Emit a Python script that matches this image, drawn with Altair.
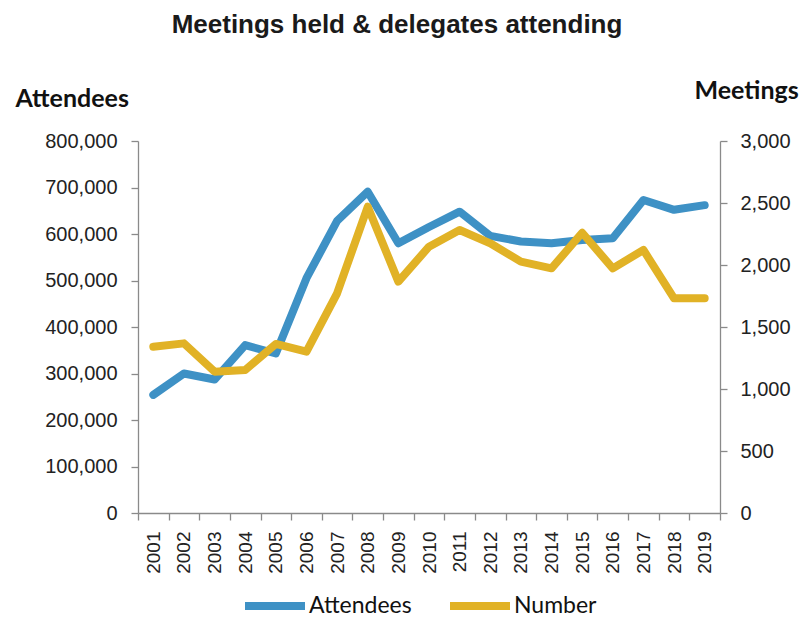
import altair as alt
import pandas as pd

years = [str(y) for y in range(2001, 2020)]
attendees = [254000, 300000, 287000, 361000, 343000, 505000, 628000, 691000, 580000,
             615000, 648000, 596000, 584000, 580000, 587000, 591000, 673000, 652000, 662000]
meetings = [1341, 1368, 1140, 1153, 1363, 1301, 1772, 2470, 1866,
            2148, 2282, 2175, 2027, 1973, 2260, 1973, 2121, 1731, 1731]
series = ["Attendees", "Number"]
colors = ["#3E91C5", "#E1B226"]
left_ticks = list(range(0, 800001, 100000))
right_ticks = list(range(0, 3001, 500))

df = pd.DataFrame({"year": years, "attendees": attendees, "meetings": meetings})

W, H = 582, 372
AXIS_GREY = "#8a8a8a"
LABEL_COL = "#222222"

x_enc = alt.X(
    "year:O",
    bandPosition=0.5,
    scale=alt.Scale(type="band", paddingInner=0, paddingOuter=0),
    axis=alt.Axis(
        title=None, labelAngle=270, labelFont="Liberation Sans", labelFontSize=19,
        labelColor=LABEL_COL, labelPadding=11, tickBand="extent", tickSize=7,
        tickColor=AXIS_GREY, domainColor=AXIS_GREY, domainWidth=1.3, tickWidth=1.3,
        grid=False,
    ),
)

color_scale = alt.Scale(domain=series, range=colors)

blue = alt.Chart(df).transform_calculate(series="'Attendees'").mark_line(
    strokeWidth=8, strokeCap="round", strokeJoin="round"
).encode(
    x=x_enc,
    y=alt.Y(
        "attendees:Q",
        scale=alt.Scale(domain=[0, 800000], nice=False, zero=True),
        axis=alt.Axis(
            values=left_ticks, format=",d", orient="left", title="Attendees",
            titleAngle=0, titleAlign="left", titleBaseline="alphabetic",
            titleX=-123, titleY=-35, titleFont="Lato", titleFontSize=25,
            titleFontWeight="bold", titleColor="#111111",
            labelFont="Liberation Sans", labelFontSize=20, labelColor=LABEL_COL,
            labelPadding=14, tickSize=7, tickColor=AXIS_GREY, tickWidth=1.3,
            domainColor=AXIS_GREY, domainWidth=1.3, grid=False,
        ),
    ),
    color=alt.Color(
        "series:N", scale=color_scale,
        legend=alt.Legend(
            title=None, orient="none", legendX=103, legendY=431, direction="horizontal",
            symbolType="stroke", symbolSize=3600, symbolStrokeWidth=8,
            labelFont="Lato", labelFontSize=23, labelColor="#111111", labelOffset=0,
            columnPadding=22, padding=0,
        ),
    ),
)

yellow = alt.Chart(df).transform_calculate(series="'Number'").mark_line(
    strokeWidth=8, strokeCap="round", strokeJoin="round"
).encode(
    x=x_enc,
    y=alt.Y(
        "meetings:Q",
        scale=alt.Scale(domain=[0, 3000], nice=False, zero=True),
        axis=alt.Axis(
            values=right_ticks, format=",d", orient="right", title="Meetings",
            titleAngle=0, titleAlign="left", titleBaseline="alphabetic",
            titleX=-26, titleY=-43, titleFont="Lato", titleFontSize=25,
            titleFontWeight="bold", titleColor="#111111",
            labelFont="Liberation Sans", labelFontSize=20, labelColor=LABEL_COL,
            labelPadding=13, tickSize=7, tickColor=AXIS_GREY, tickWidth=1.3,
            domainColor=AXIS_GREY, domainWidth=1.3, grid=False,
        ),
    ),
    color=alt.Color("series:N", scale=color_scale),
)

chart = (
    alt.layer(blue, yellow)
    .resolve_scale(y="independent")
    .properties(
        width=W, height=H,
        autosize=alt.AutoSizeParams(type="none"),
        padding={"left": 130, "top": 133, "right": 81, "bottom": 104},
        title=alt.TitleParams(
            "Meetings held & delegates attending", font="Liberation Sans", fontSize=26,
            fontWeight="bold", color="#1a1a1a", anchor="middle", frame="group",
            dx=-32, offset=19, baseline="alphabetic",
        ),
    )
    .configure_view(stroke=None)
)

chart.save("out.html", embed_options={"renderer": "svg", "actions": False})
